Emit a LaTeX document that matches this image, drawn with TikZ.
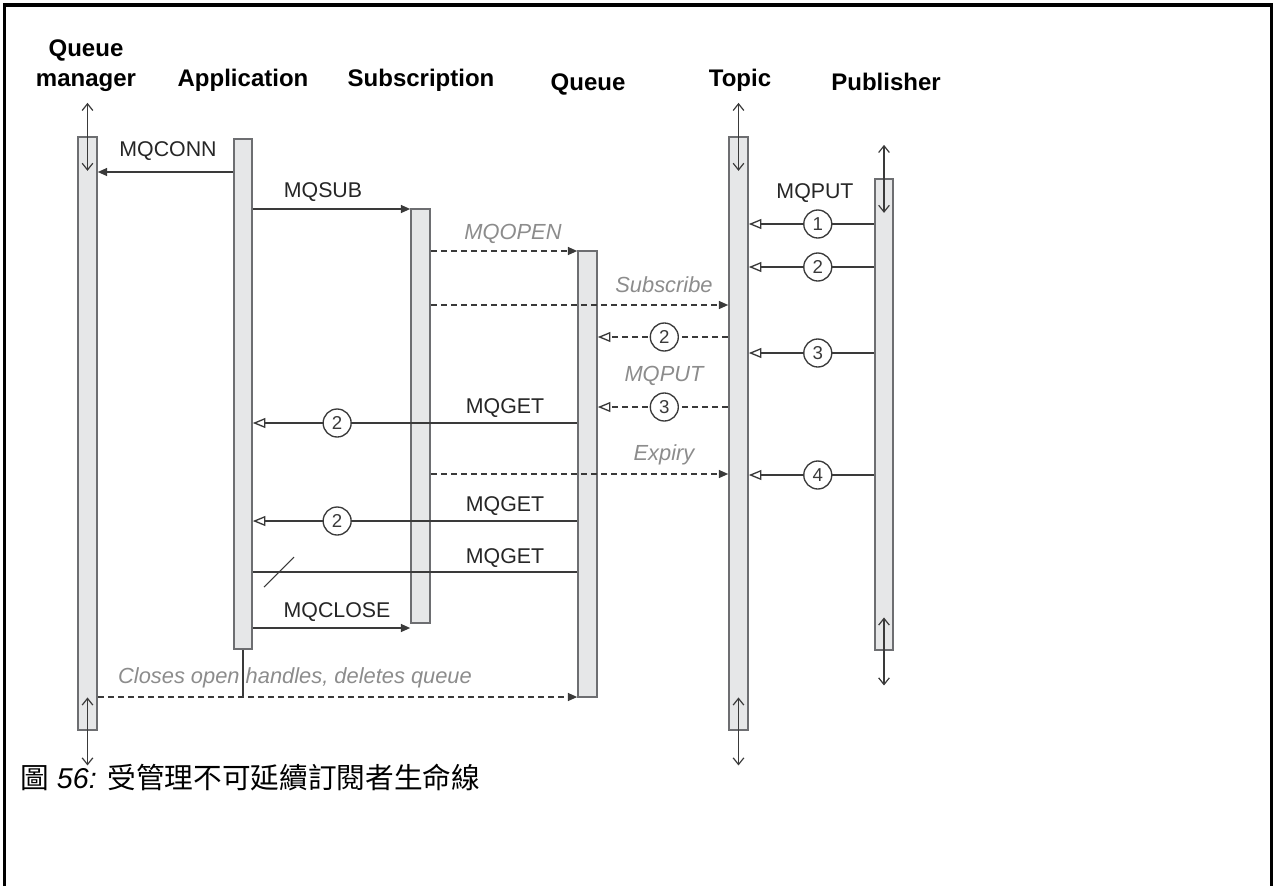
\documentclass[tikz,border=0pt]{standalone}
\usepackage{fontspec}
\setmainfont{Liberation Sans}
\newfontfamily\cjkfont{Noto Sans CJK TC}
\usetikzlibrary{arrows.meta,fit}

\definecolor{barfill}{HTML}{E6E7E8}
\definecolor{barline}{HTML}{6D6E71}
\definecolor{msgline}{HTML}{3A3A3A}
\definecolor{notegray}{HTML}{8C8C8C}

\begin{document}
\begin{tikzpicture}[x=0.75pt, y=-0.75pt,
    bar/.style={draw=barline, fill=barfill, line width=1.2pt, inner sep=0pt},
    life/.style={{Straight Barb[length=5pt,width=8pt]}-{Straight Barb[length=5pt,width=8pt]}, msgline, line width=0.9pt},
    call/.style={-{Triangle[length=7pt,width=6pt]}, msgline, line width=1pt},
    async/.style={call, dash pattern=on 4.5pt off 3pt},
    deliver/.style={-{Triangle[open,fill=white,length=9.5pt,width=7.5pt]}, msgline, line width=1pt},
    relay/.style={deliver, dash pattern=on 4.5pt off 3pt},
    num/.style={circle, draw=msgline, fill=white, solid, line width=1pt, minimum size=21pt, inner sep=0pt, font=\fontsize{14}{16}\selectfont},
    lbl/.style={anchor=base, font=\fontsize{16}{19}\selectfont, text=black!85},
    note/.style={anchor=base, font=\fontsize{16.4}{19}\selectfont\itshape, text=notegray},
    head/.style={anchor=base, align=center, font=\fontsize{18}{22.5}\selectfont\bfseries}]

    \useasboundingbox (0,0) rectangle (1274,886);
    % frame, open at the bottom
    \draw[line width=2.4pt] (4.5,886) -- (4.5,5) -- (1271.5,5) -- (1271.5,886);

    % column headings
    \node[head] (hqm) at (86,86) {Queue\\manager};
    \node[head] (happ) at (243,86) {Application};
    \node[head] (hsub) at (421,86) {Subscription};
    \node[head] (hqueue) at (588,90) {Queue};
    \node[head] (htopic) at (740,86) {Topic};
    \node[head] (hpub) at (886,90) {Publisher};

    % activation bars
    \node[bar, fit={(78,137) (97,730)}] (qm) {};
    \node[bar, fit={(234,139) (252,649)}] (app) {};
    \node[bar, fit={(411,209) (430,623)}] (sub) {};
    \node[bar, fit={(578,251) (597,697)}] (queue) {};
    \node[bar, fit={(729,137) (748,730)}] (topic) {};
    \node[bar, fit={(875,179) (893,650)}] (pub) {};

    % lifeline ends
    \foreach \b in {qm,topic,pub} {
        \draw[life] ([yshift=25pt]\b.north) -- ([yshift=-26pt]\b.north);
        \draw[life] ([yshift=25pt]\b.south) -- ([yshift=-26pt]\b.south);
    }

    % message rows
    \coordinate (rconn) at (0,172);
    \coordinate (rsub) at (0,209);
    \coordinate (rput1) at (0,224);
    \coordinate (ropen) at (0,251);
    \coordinate (rput2) at (0,267);
    \coordinate (rsubscr) at (0,305);
    \coordinate (rfwd2) at (0,337);
    \coordinate (rput3) at (0,353);
    \coordinate (rfwd3) at (0,407);
    \coordinate (rget1) at (0,423);
    \coordinate (rexp) at (0,474);
    \coordinate (rput4) at (0,475);
    \coordinate (rget2) at (0,521);
    \coordinate (rget3) at (0,572);
    \coordinate (rclose) at (0,628);
    \coordinate (rdel) at (0,697);

    % application calls
    \draw[call] (app.west |- rconn) -- (qm.east |- rconn);
    \draw[call] (app.east |- rsub) -- (sub.west |- rsub);
    \draw[async] (sub.east |- ropen) -- (queue.west |- ropen);
    \draw[async] (sub.east |- rsubscr) -- (topic.west |- rsubscr);
    \draw[async] (sub.east |- rexp) -- (topic.west |- rexp);
    \draw[call] (app.east |- rclose) -- (sub.west |- rclose);
    \draw[msgline, line width=1pt] (app.south) -- (app.south |- rdel);
    \draw[async] (qm.east |- rdel) -- (queue.west |- rdel);

    % publications
    \draw[deliver] (pub.west |- rput1) -- node[num, pos=0.45] (p1) {1} (topic.east |- rput1);
    \draw[deliver] (pub.west |- rput2) -- node[num, pos=0.45] (p2) {2} (topic.east |- rput2);
    \draw[deliver] (pub.west |- rput3) -- node[num, pos=0.45] (p3) {3} (topic.east |- rput3);
    \draw[deliver] (pub.west |- rput4) -- node[num, pos=0.45] (p4) {4} (topic.east |- rput4);

    % topic to queue
    \draw[relay] (topic.west |- rfwd2) -- node[num, pos=0.49] (f2) {2} (queue.east |- rfwd2);
    \draw[relay] (topic.west |- rfwd3) -- node[num, pos=0.49] (f3) {3} (queue.east |- rfwd3);

    % gets
    \draw[deliver] (queue.west |- rget1) -- node[num, pos=0.74] (g1) {2} (app.east |- rget1);
    \draw[deliver] (queue.west |- rget2) -- node[num, pos=0.74] (g2) {2} (app.east |- rget2);
    \draw[msgline, line width=1pt] (queue.west |- rget3) -- (app.east |- rget3);
    \draw[msgline, line width=0.8pt] (264,587) -- (294,557);

    % labels
    \node[lbl] (lconn) at (168,156) {MQCONN};
    \node[lbl] (lsub) at (323,197) {MQSUB};
    \node[note] (lopen) at (513,239) {MQOPEN};
    \node[lbl] (lput) at (815,198) {MQPUT};
    \node[note] (lsubscr) at (664,292) {Subscribe};
    \node[note] (lmqput) at (664,381) {MQPUT};
    \node[lbl] (lget1) at (505,413) {MQGET};
    \node[note] (lexp) at (664,460) {Expiry};
    \node[lbl] (lget2) at (505,511) {MQGET};
    \node[lbl] (lget3) at (505,563) {MQGET};
    \node[lbl] (lclose) at (337,617) {MQCLOSE};
    \node[note] (ldel) at (295,683) {Closes open handles, deletes queue};

    % caption
    \node[anchor=base west, inner sep=0pt, font=\fontsize{21.5}{24}\selectfont] (caption) at (20,788)
        {{\cjkfont 圖} {\itshape 56:} {\cjkfont 受管理不可延續訂閱者生命線}};
\end{tikzpicture}
\end{document}
